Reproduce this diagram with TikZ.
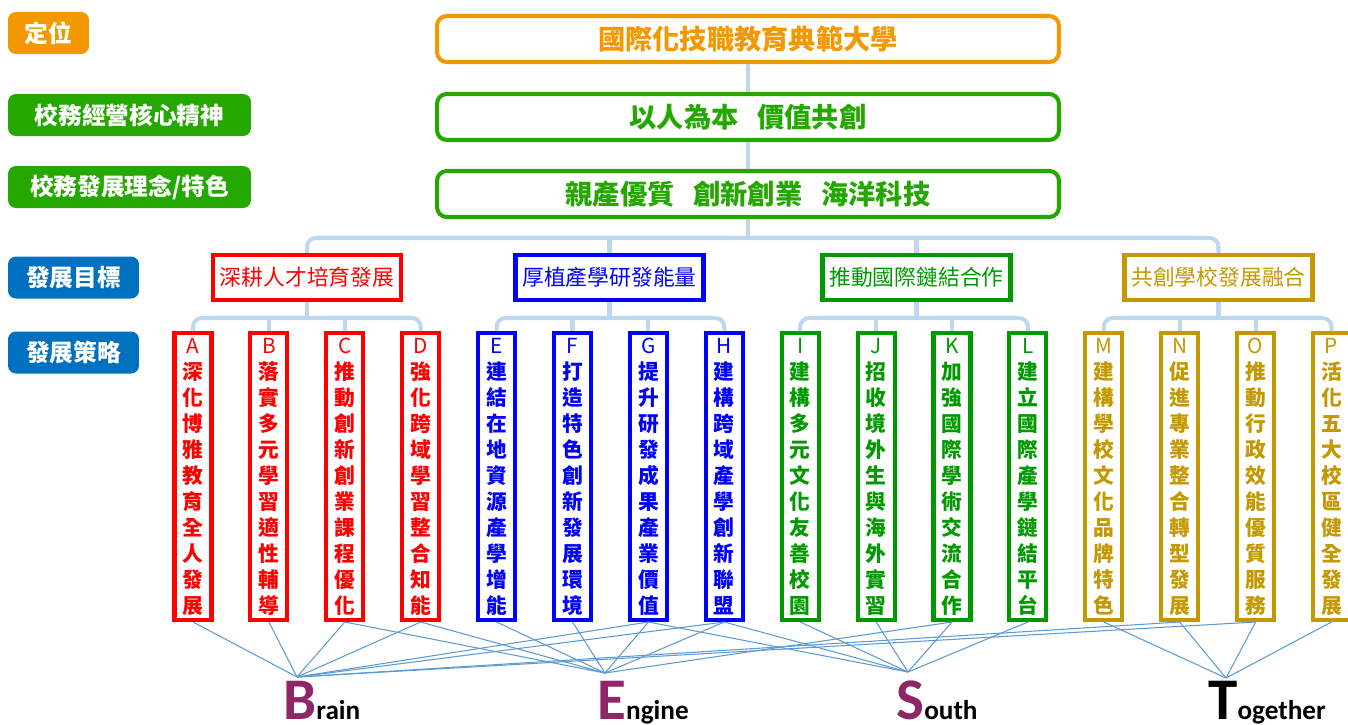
\documentclass[tikz,border=0pt]{standalone}
\usepackage{fontspec}
\newfontfamily\cjk{Noto Sans CJK TC}
\newfontfamily\bestfont{Carlito}

\definecolor{posorange}{HTML}{F39800}
\definecolor{labgreen}{HTML}{24A800}
\definecolor{labblue}{HTML}{0070C0}
\definecolor{linkblue}{HTML}{BDD7EE}
\definecolor{tieblue}{HTML}{5B9BD5}
\definecolor{goalred}{HTML}{FF0000}
\definecolor{goalblue}{HTML}{0000FF}
\definecolor{goalgreen}{HTML}{009A00}
\definecolor{goalgold}{HTML}{C49800}
\definecolor{bestpurple}{HTML}{8E2768}

\newcommand\vstack[1]{\expandafter\vstackloop#1\relax}
\def\vstackloop#1{\ifx#1\relax\else\\#1\expandafter\vstackloop\fi}

\tikzset{
  lab/.style={fill=#1, text=white, rounded corners=4.5pt, inner sep=0pt,
    minimum height=0.84cm, font=\cjk\bfseries\fontsize{13.5}{16}\selectfont},
  mainbox/.style={draw=#1, text=#1, fill=white, line width=2.3pt, rounded corners=5.5pt,
    minimum width=12.44cm, minimum height=0.92cm, font=\cjk\bfseries\fontsize{15.5}{18}\selectfont},
  goalbox/.style={draw=#1, text=#1, fill=white, line width=2.5pt,
    minimum width=3.76cm, minimum height=0.9cm, font=\cjk\fontsize{12.4}{15}\selectfont},
  stratbox/.style={draw=#1, text=#1, fill=white, line width=2.3pt, inner sep=0pt, align=center,
    minimum width=0.74cm, minimum height=5.74cm, font=\cjk\bfseries\fontsize{11.8}{14.8}\selectfont},
  link/.style={draw=linkblue, line width=2.3pt, rounded corners=5pt},
  tie/.style={draw=tieblue, line width=0.6pt},
  best/.style={anchor=base west, inner sep=0pt, font=\bestfont\bfseries\fontsize{15.5}{18}\selectfont},
}

\begin{document}
\begin{tikzpicture}[x=0.02cm, y=-0.02cm]
  \useasboundingbox (0,0) rectangle (1348,724);

  % row labels
  \node[lab=posorange, minimum width=1.62cm] (lpos) at (48.5,33) {定位};
  \node[lab=labgreen, minimum width=4.86cm] (lspirit) at (129.5,115) {校務經營核心精神};
  \node[lab=labgreen, minimum width=4.86cm] (lidea) at (129.5,187) {校務發展理念/特色};
  \node[lab=labblue, minimum width=2.62cm] (lgoal) at (73.5,277.5) {發展目標};
  \node[lab=labblue, minimum width=2.62cm] (lstrat) at (73.5,352.5) {發展策略};

  \node[mainbox=posorange] (vision) at (748,39) {國際化技職教育典範大學};
  \node[mainbox=labgreen] (spirit) at (748,117) {以人為本\hspace{0.7em}價值共創};
  \node[mainbox=labgreen] (idea) at (748,194) {親產優質\hspace{0.7em}創新創業\hspace{0.7em}海洋科技};

  \node[goalbox=goalred] (talent) at (307,277.5) {深耕人才培育發展};
  \node[goalbox=goalblue] (industry) at (609.5,277.5) {厚植產學研發能量};
  \node[goalbox=goalgreen] (intl) at (916.5,277.5) {推動國際鏈結合作};
  \node[goalbox=goalgold] (fusion) at (1218.5,277.5) {共創學校發展融合};

  \foreach \i/\code/\txt/\col in {
      0/A/深化博雅教育全人發展/goalred, 1/B/落實多元學習適性輔導/goalred,
      2/C/推動創新創業課程優化/goalred, 3/D/強化跨域學習整合知能/goalred,
      4/E/連結在地資源產學增能/goalblue, 5/F/打造特色創新發展環境/goalblue,
      6/G/提升研發成果產業價值/goalblue, 7/H/建構跨域產學創新聯盟/goalblue,
      8/I/建構多元文化友善校園/goalgreen, 9/J/招收境外生與海外實習/goalgreen,
      10/K/加強國際學術交流合作/goalgreen, 11/L/建立國際產學鏈結平台/goalgreen,
      12/M/建構學校文化品牌特色/goalgold, 13/N/促進專業整合轉型發展/goalgold,
      14/O/推動行政效能優質服務/goalgold, 15/P/活化五大校區健全發展/goalgold}{
    \node[stratbox=\col] (s\code) at (193+75.9*\i,476.5) {{\mdseries\code}\vstack{\txt}};
  }

  \draw[link] (vision) -- (spirit);
  \draw[link] (spirit) -- (idea);
  \coordinate (hub) at (748,238);
  \draw[link] (idea.south) -- (hub);
  \draw[link] (talent.north) |- (hub) -| (fusion.north);
  \draw[link] (industry.north) -- (industry.north |- hub);
  \draw[link] (intl.north) -- (intl.north |- hub);

  \foreach \g/\a/\b/\c/\d in {talent/A/B/C/D, industry/E/F/G/H, intl/I/J/K/L, fusion/M/N/O/P}{
    \draw[link] (\g.south) -- ++(0,16);
    \draw[link] (s\a.north) -- ++(0,-13) -| (s\d.north);
    \draw[link] (s\b.north) -- ++(0,-13);
    \draw[link] (s\c.north) -- ++(0,-13);
  }

  \coordinate (fB) at (297,677);
  \coordinate (fE) at (605,673);
  \coordinate (fS) at (908,672);
  \coordinate (fT) at (1226,678);

  \foreach \s/\f in {A/B, B/B, C/B, D/B, G/B, H/B, N/B, O/B,
                     C/E, D/E, E/E, F/E, G/E, H/E, K/E,
                     G/S, H/S, I/S, J/S, K/S, L/S,
                     M/T, N/T, O/T, P/T}
    \draw[tie] (s\s.south) -- (f\f);

  \node[best] (brain) at (283,719) {\textcolor{bestpurple}{\fontsize{33.6}{36}\selectfont B}rain};
  \node[best] (engine) at (597,719) {\textcolor{bestpurple}{\fontsize{33.6}{36}\selectfont E}ngine};
  \node[best] (south) at (896,719) {\textcolor{bestpurple}{\fontsize{33.6}{36}\selectfont S}outh};
  \node[best] (together) at (1208,719) {{\fontsize{33.6}{36}\selectfont T}ogether};
\end{tikzpicture}
\end{document}
